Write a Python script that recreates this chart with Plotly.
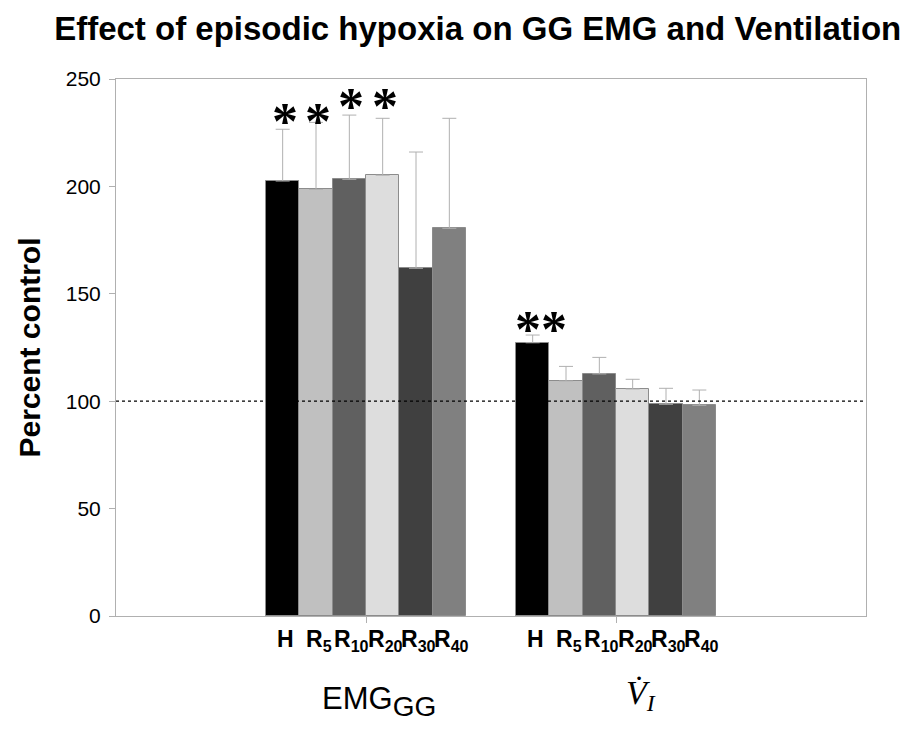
import plotly.graph_objects as go

# Data
conditions = ["H", "R5", "R10", "R20", "R30", "R40"]
tick_labels = ["<b>H</b>", "<b>R<sub>5</sub></b>", "<b>R<sub>10</sub></b>",
               "<b>R<sub>20</sub></b>", "<b>R<sub>30</sub></b>", "<b>R<sub>40</sub></b>"]
groups = ["EMG<sub><span style='font-size:28px'>GG</span></sub>",
          "<i>V\u0307</i><sub><i>I</i></sub>"]
emg_values = [202.5, 198.6, 203.3, 205.2, 161.9, 180.5]
emg_err = [24.1, 31.2, 29.9, 26.5, 54.1, 51.2]
vi_values = [127.2, 109.4, 112.7, 105.7, 98.6, 98.1]
vi_err = [3.6, 6.8, 7.7, 4.5, 7.4, 7.1]
# significance marks: (group, bar index, height, text)
stars = [(1, 0, 230, "*"), (1, 1, 230, "*"), (1, 2, 237, "*"), (1, 3, 237, "*"),
         (2, 0, 133.5, "**")]

colors = ["#000000", "#C0C0C0", "#606060", "#DDDDDD", "#404040", "#808080"]
bar_w = 0.8 / 6
offsets = [-0.4 + bar_w * (i + 0.5) for i in range(6)]

fig = go.Figure()
for i, cond in enumerate(conditions):
    fig.add_trace(go.Bar(
        x=[1 + offsets[i], 2 + offsets[i]],
        y=[emg_values[i], vi_values[i]],
        width=bar_w,
        name=cond,
        marker=dict(color=colors[i], line=dict(color="#8c8c8c", width=1)),
        error_y=dict(type="data", symmetric=False, array=[emg_err[i], vi_err[i]],
                     arrayminus=[0, 0], color="#b0b0b0", thickness=1, width=7),
        showlegend=False,
    ))

# reference line at 100 %
fig.add_shape(type="line", xref="x", yref="y", x0=0, x1=3, y0=100, y1=100,
              line=dict(color="black", width=1.2, dash="dot"))

annotations = []
# significance stars
for gx, i, sy, txt in stars:
    shift = 0.035 if txt == "**" else 0.008
    annotations.append(dict(x=gx + offsets[i] + shift, y=sy, xref="x", yref="y",
                            text="<b>" + txt + "</b>", showarrow=False, yanchor="middle",
                            font=dict(family="Liberation Serif", size=52, color="black")))

# bar labels
for gx in (1, 2):
    for i, lab in enumerate(tick_labels):
        annotations.append(dict(x=gx + offsets[i] + 0.01, y=-0.014, xref="x", yref="paper",
                                text=lab, showarrow=False, yanchor="top",
                                font=dict(family="Liberation Sans", size=23, color="black")))

# group labels
annotations.append(dict(x=1.05, y=-0.117, xref="x", yref="paper", text=groups[0],
                        showarrow=False, yanchor="top",
                        font=dict(family="Liberation Sans", size=31, color="black")))
annotations.append(dict(x=2.1, y=-0.105, xref="x", yref="paper", text=groups[1],
                        showarrow=False, yanchor="top",
                        font=dict(family="Liberation Serif", size=34, color="black")))

fig.update_layout(
    width=921, height=730,
    margin=dict(l=108, r=63, t=71, b=122),
    plot_bgcolor="white", paper_bgcolor="white",
    bargap=0,
    title=dict(text="<b>Effect of episodic hypoxia on GG EMG and Ventilation</b>",
               x=0.51, xanchor="center", y=0.972, yanchor="middle",
               font=dict(family="Liberation Sans", size=33, color="black")),
    annotations=annotations,
)
fig.update_xaxes(range=[0, 3], showticklabels=False, tickvals=[1, 2], ticks="outside",
                 ticklen=6, tickcolor="#b0b0b0", showgrid=False, zeroline=False,
                 showline=True, linecolor="#b0b0b0", linewidth=1, mirror=True)
fig.update_yaxes(range=[0, 250], tickvals=[0, 50, 100, 150, 200, 250], ticks="outside",
                 ticklen=6, tickcolor="#b0b0b0", showgrid=False, zeroline=False,
                 showline=True, linecolor="#b0b0b0", linewidth=1, mirror=True,
                 ticklabelstandoff=4,
                 tickfont=dict(family="Liberation Sans", size=21, color="black"),
                 title=dict(text="<b>Percent control</b>", standoff=16,
                            font=dict(family="Liberation Sans", size=30, color="black")))

fig.write_html("out.html")
